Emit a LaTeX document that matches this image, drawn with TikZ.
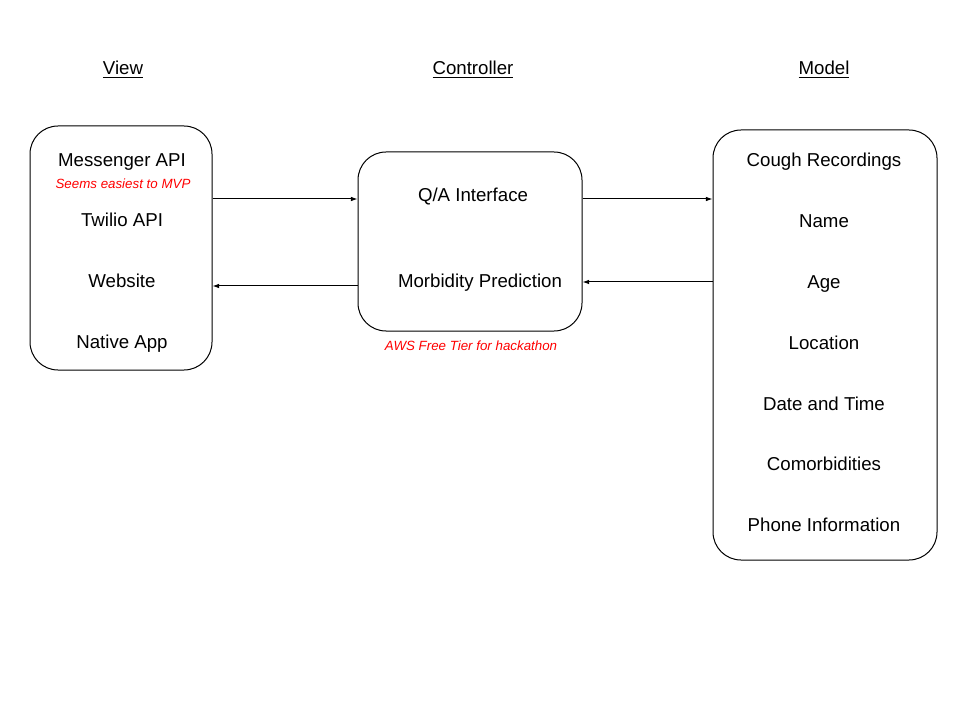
\documentclass[tikz,border=0pt]{standalone}
\usepackage{fontspec}
\setmainfont{Liberation Sans}
\usetikzlibrary{arrows.meta,positioning}
\tikzstyle{line} = [draw, line width=0.75pt, -{Latex[length=5pt,width=3.5pt]}]
\tikzstyle{panel} = [draw, line width=0.75pt, rectangle, rounded corners=21pt]
\tikzstyle{item} = [font=\fontsize{14}{16}\selectfont, text centered, inner sep=0pt, text height=0.72em, text depth=0pt]
\tikzstyle{note} = [text=red, font=\fontsize{10}{12}\selectfont\itshape, inner sep=0pt, text height=0.72em, text depth=0pt]
\tikzstyle{heading} = [font=\fontsize{14}{16}\selectfont, inner sep=0pt, text height=0.72em, text depth=0pt]

\begin{document}
\begin{tikzpicture}[x=0.75pt, y=-0.75pt, node distance=45.6pt]
        \useasboundingbox (0,0) rectangle (960,720);
        % headings
        \node[heading] (hview) at (123,70) {\underline{View}};
        \node[heading] (hctrl) at (473,70) {\underline{Controller}};
        \node[heading] (hmodel) at (824,70) {\underline{Model}};
        % panels
        \node[panel, minimum width=136.5pt, minimum height=183pt] (view) at (121,248) {};
        \node[panel, minimum width=168pt, minimum height=134.25pt] (ctrl) at (470,241.5) {};
        \node[panel, minimum width=168pt, minimum height=322.5pt] (model) at (825,345) {};
        % view items
        \node[item] (messenger) at (122,162) {Messenger API};
        \node[note] (mvp) at (123,184) {Seems easiest to MVP};
        \node[item] (twilio) at (122,222) {Twilio API};
        \node[item] (website) at (122,283) {Website};
        \node[item] (native) at (122,344) {Native App};
        % controller items
        \node[item] (qa) at (473,197) {Q/A Interface};
        \node[item] (morbidity) at (480,283) {Morbidity Prediction};
        \node[note] (aws) at (471,346) {AWS Free Tier for hackathon};
        % model items
        \node[item] (cough) at (824,162) {Cough Recordings};
        \node[item, below of=cough] (name) {Name};
        \node[item, below of=name] (age) {Age};
        \node[item, below of=age] (location) {Location};
        \node[item, below of=location] (date) {Date and Time};
        \node[item, below of=date] (comorb) {Comorbidities};
        \node[item, below of=comorb] (phone) {Phone Information};
        % connectors
        \path[line] (view.east |- 0,199) -- (ctrl.west |- 0,199);
        \path[line] (ctrl.west |- 0,286) -- (view.east |- 0,286);
        \path[line] (ctrl.east |- 0,199) -- (model.west |- 0,199);
        \path[line] (model.west |- 0,282) -- (ctrl.east |- 0,282);
    \end{tikzpicture}
\end{document}
